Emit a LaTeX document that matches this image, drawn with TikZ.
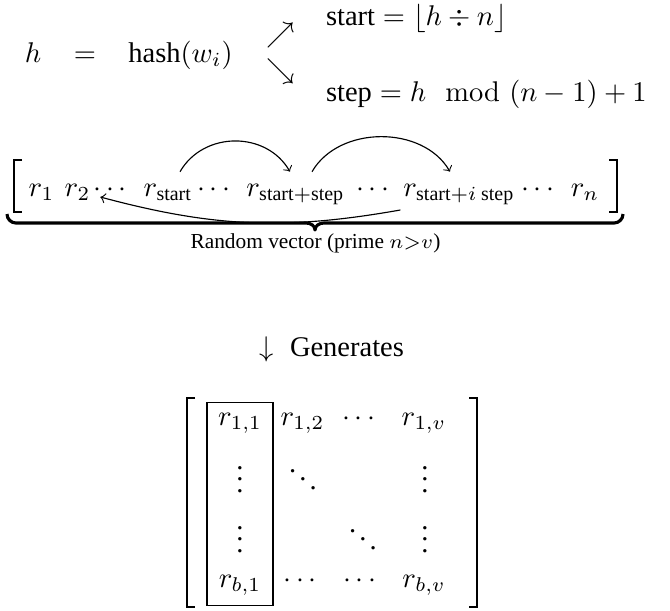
\documentclass[tikz,border=0pt]{standalone}
\usepackage{amsmath}
\usepackage[no-math]{fontspec}
\setmainfont{Liberation Serif}
\usetikzlibrary{calc,fit}
\begin{document}
\begin{tikzpicture}[x=0.351pt,y=0.351pt,
  every node/.style={inner sep=0pt,outer sep=0pt},
  txt/.style={anchor=base},
  lefttxt/.style={anchor=base west},
  jump/.style={->,line width=0.4pt},
  vbrk/.style={line width=0.6pt},
  mbrk/.style={line width=1pt},
  bracepath/.style={line width=1.1pt,line join=round},
  colframe/.style={draw,line width=0.4pt,inner xsep=3.9pt,inner ysep=3.6pt},
  lbl/.style={anchor=base,font=\fontsize{7.5}{9}\selectfont}]
\useasboundingbox (0,0) rectangle (670,-610);

% top row
\node[txt] (h) at (33,-62) {$h$};
\node[txt] (eq) at (85,-62) {$=$};
\node[txt] (hash) at (180.5,-62) {$\text{hash}(w_i)$};
\node[txt] (ne) at (280.5,-42) {$\nearrow$};
\node[txt] (se) at (280.5,-78) {$\searrow$};
\node[lefttxt] (start) at (326,-25) {$\text{start} = \lfloor h \div n \rfloor$};
\node[lefttxt] (step) at (326,-101) {$\text{step} = h \mod (n-1)+1$};

% vector row
\node[txt] (r1) at (41.5,-196) {$r_1$};
\node[txt] (r2) at (77.5,-196) {$r_2$};
\node[txt] (d1) at (112.5,-196) {$\cdots$};
\node[txt] (rs) at (168,-196) {$r_{\text{start}}$};
\node[txt] (d2) at (216,-196) {$\cdots$};
\node[txt] (rss) at (295.5,-196) {$r_{\text{start}+\text{step}}$};
\node[txt] (d3) at (375,-196) {$\cdots$};
\node[txt] (rsi) at (459,-196) {$r_{\text{start}+i\text{ step}}$};
\node[txt] (d4) at (540,-196) {$\cdots$};
\node[txt] (rn) at (585,-196) {$r_n$};

\draw[vbrk] (22,-160) -- (14,-160) -- (14,-212) -- (22,-212);
\draw[vbrk] (609,-160) -- (617,-160) -- (617,-212) -- (609,-212);

\draw[jump] ($(rs.north)+(12,12)$) to[out=60,in=120,looseness=1.1] ($(rss.north)+(-5.5,12)$);
\draw[jump] ($(rss.north)+(16.5,12)$) to[out=60,in=120] ($(rsi.north)+(-9,12)$);
\draw[jump] ($(rsi.base west)+(-3,-14)$) to[out=190,in=-15] ($(r2.base east)+(10,-1)$);

\draw[bracepath] (7,-214) to[out=-90,in=180] (16,-223) -- (306,-223)
  to[out=0,in=90] (315,-230) to[out=90,in=180] (324,-223) -- (614,-223)
  to[out=0,in=-90] (623,-214);
\node[lbl] (label) at (315.5,-248) {Random vector (prime $n{>}v$)};

% generates
\node[txt] (down) at (266.5,-356) {$\downarrow$};
\node[lefttxt] (gen) at (290,-356) {Generates};

% matrix
\node[txt] (m11) at (240,-425) {$r_{1,1}$};
\node[txt] (m12) at (302.5,-425) {$r_{1,2}$};
\node[txt] (m13) at (361,-425) {$\cdots$};
\node[txt] (m14) at (424,-425) {$r_{1,v}$};
\node[txt] (m21) at (240,-492) {$\vdots$};
\node[txt] (m22) at (303,-492) {$\ddots$};
\node[txt] (m24) at (425,-492) {$\vdots$};
\node[txt] (m31) at (240,-552) {$\vdots$};
\node[txt] (m33) at (363,-552) {$\ddots$};
\node[txt] (m34) at (425,-552) {$\vdots$};
\node[txt] (mb1) at (240,-587) {$r_{b,1}$};
\node[txt] (mb2) at (302.5,-587) {$\cdots$};
\node[txt] (mb3) at (362,-587) {$\cdots$};
\node[txt] (mb4) at (424,-587) {$r_{b,v}$};
\node[colframe,fit=(m11)(mb1)] (col) {};

\draw[mbrk] (195,-398) -- (187,-398) -- (187,-607) -- (195,-607);
\draw[mbrk] (469,-398) -- (477,-398) -- (477,-607) -- (469,-607);
\end{tikzpicture}
\end{document}
